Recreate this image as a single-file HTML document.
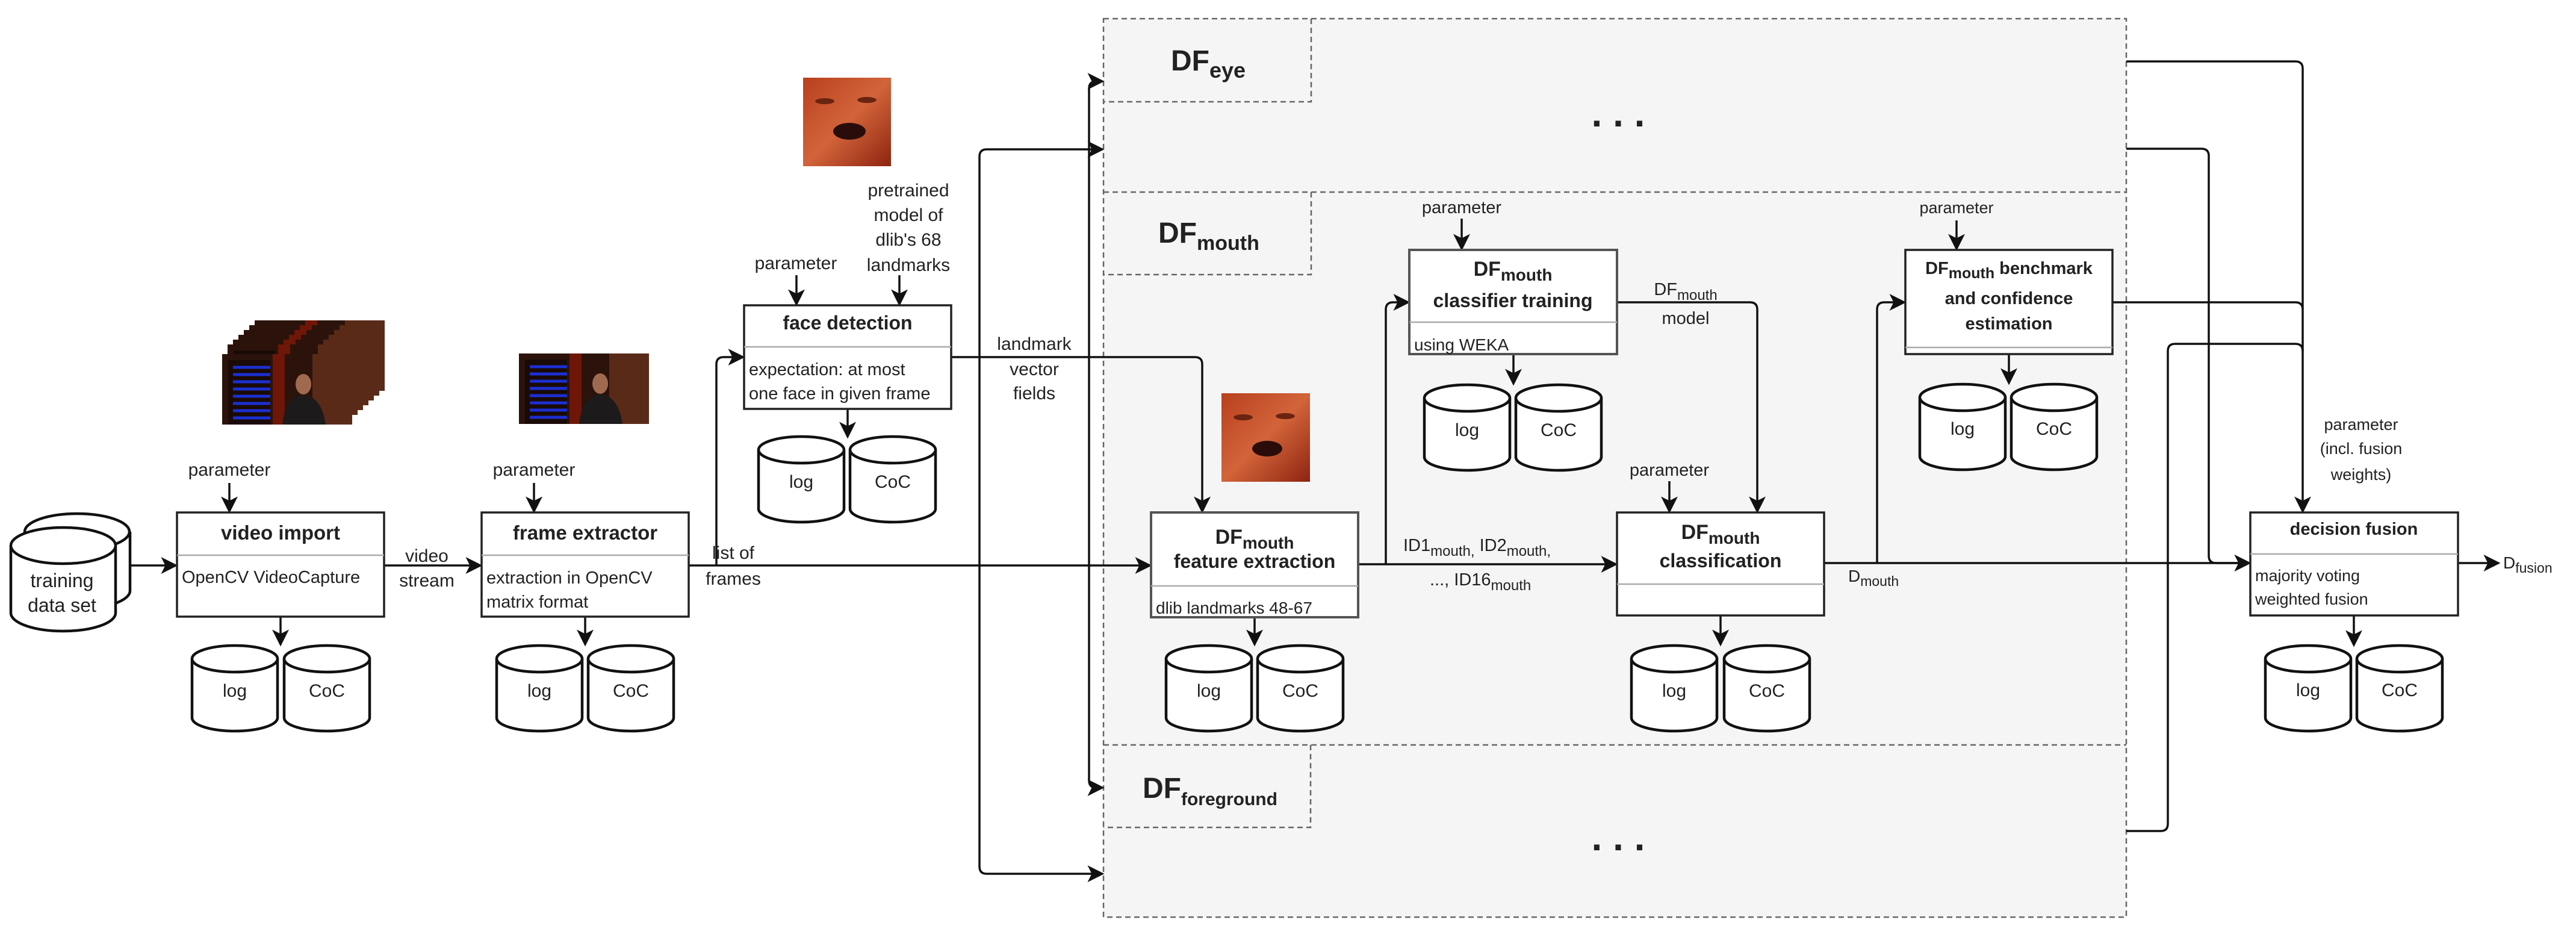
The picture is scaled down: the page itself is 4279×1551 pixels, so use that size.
<!DOCTYPE html>
<html><head><meta charset="utf-8"><style>
html,body{margin:0;padding:0;background:#fff;width:4279px;height:1551px;overflow:hidden}
svg{display:block}
text{font-family:"Liberation Sans",Arial,sans-serif;fill:#222}
.b{font-weight:bold}
.ln{fill:none;stroke:#111;stroke-width:3.5}
.box{fill:#fff;stroke:#222;stroke-width:3.5}
.box2{fill:#fff;stroke:#555;stroke-width:4}
.div{stroke:#aaa;stroke-width:2.5}
</style></head><body>
<svg width="4279" height="1551" viewBox="0 0 4279 1551" xmlns="http://www.w3.org/2000/svg">
<defs>
<marker id="a" markerWidth="8" markerHeight="8" refX="7" refY="4" orient="auto" markerUnits="strokeWidth">
<path d="M0,0 L8,4 L0,8 L2,4 z" fill="#111"/></marker>
<g id="cyl"><path d="M0,22 V120 A71,22 0 0 0 142,120 V22" fill="#fff" stroke="#111" stroke-width="4.5"/><ellipse cx="71" cy="22" rx="71" ry="22" fill="#fff" stroke="#111" stroke-width="4.5"/></g>
<linearGradient id="face" x1="0" y1="0" x2="1" y2="1"><stop offset="0" stop-color="#b8401e"/><stop offset="0.5" stop-color="#d2643a"/><stop offset="1" stop-color="#8e2410"/></linearGradient>
<g id="frame">
<rect x="0" y="0" width="216" height="117" fill="#2b130b"/>
<rect x="10" y="10" width="70" height="107" fill="#1a0a05"/>
<g stroke="#1b2fd0" stroke-width="5"><line x1="18" y1="22" x2="80" y2="22"/><line x1="18" y1="34" x2="80" y2="34"/><line x1="18" y1="46" x2="80" y2="46"/><line x1="18" y1="58" x2="80" y2="58"/><line x1="18" y1="70" x2="80" y2="70"/><line x1="18" y1="82" x2="80" y2="82"/><line x1="18" y1="94" x2="80" y2="94"/><line x1="18" y1="106" x2="80" y2="106"/></g>
<rect x="84" y="0" width="20" height="117" fill="#6e1608"/>
<rect x="150" y="0" width="66" height="117" fill="#5a2a18"/>
<ellipse cx="135" cy="50" rx="13" ry="17" fill="#a06a50"/>
<path d="M100,117 Q105,70 135,68 Q165,70 172,117 z" fill="#1c1a1a"/>
</g>
</defs>

<!-- DF group -->
<rect x="1833" y="31" width="1699" height="1492" fill="#f5f5f5" stroke="#666" stroke-width="2.5" stroke-dasharray="9,6"/>
<line x1="1833" y1="319" x2="3532" y2="319" stroke="#666" stroke-width="2.5" stroke-dasharray="9,6"/>
<line x1="1833" y1="1237" x2="3532" y2="1237" stroke="#666" stroke-width="2.5" stroke-dasharray="9,6"/>
<path d="M2178,31 V169 H1833" fill="none" stroke="#666" stroke-width="2.5" stroke-dasharray="9,6"/>
<path d="M2178,319 V456 H1833" fill="none" stroke="#666" stroke-width="2.5" stroke-dasharray="9,6"/>
<path d="M2177,1237 V1374 H1833" fill="none" stroke="#666" stroke-width="2.5" stroke-dasharray="9,6"/>
<text x="1945" y="117" font-size="48" class="b" fill="#333">DF<tspan font-size="36" dy="12">eye</tspan></text>
<text x="1924" y="403" font-size="48" class="b" fill="#333">DF<tspan font-size="34" dy="12">mouth</tspan></text>
<text x="1898" y="1325" font-size="48" class="b" fill="#333">DF<tspan font-size="30" dy="12">foreground</tspan></text>
<text x="2688" y="210" font-size="64" class="b" text-anchor="middle" fill="#111">. . .</text>
<text x="2688" y="1412" font-size="64" class="b" text-anchor="middle" fill="#111">. . .</text>

<!-- images -->
<use href="#frame" x="423" y="532"/><use href="#frame" x="414" y="540"/><use href="#frame" x="405" y="548"/><use href="#frame" x="396" y="556"/><use href="#frame" x="387" y="564"/><use href="#frame" x="378" y="572"/>
<g transform="translate(369,588) scale(1,1)"><use href="#frame"/></g>
<use href="#frame" x="862" y="587"/>
<rect x="1334" y="129" width="146" height="147" fill="url(#face)"/>
<ellipse cx="1411" cy="218" rx="27" ry="14" fill="#2a0d0a"/>
<ellipse cx="1370" cy="168" rx="16" ry="5" fill="#6a2410"/><ellipse cx="1440" cy="166" rx="16" ry="5" fill="#6a2410"/>
<rect x="2029" y="653" width="147" height="147" fill="url(#face)"/>
<ellipse cx="2105" cy="745" rx="25" ry="13" fill="#2a0d0a"/>
<ellipse cx="2065" cy="693" rx="16" ry="5" fill="#6a2410"/><ellipse cx="2135" cy="691" rx="16" ry="5" fill="#6a2410"/>

<!-- training data set -->
<path d="M41,883 V981 A87,30 0 0 0 216,981 V883" fill="#fff" stroke="#111" stroke-width="4.5"/><ellipse cx="128" cy="883" rx="87" ry="30" fill="#fff" stroke="#111" stroke-width="4.5"/>
<path d="M18,906 V1018 A87,30 0 0 0 192,1018 V906" fill="#fff" stroke="#111" stroke-width="4.5"/><ellipse cx="105" cy="906" rx="87" ry="30" fill="#fff" stroke="#111" stroke-width="4.5"/>
<text x="103" y="975" font-size="32" text-anchor="middle">training</text>
<text x="103" y="1016" font-size="32" text-anchor="middle">data set</text>

<!-- connectors -->
<g class="ln">
<path d="M216,939 H292" marker-end="url(#a)"/>
<path d="M638,939 H798" marker-end="url(#a)"/>
<path d="M381,802 V849" marker-end="url(#a)"/>
<path d="M887,802 V849" marker-end="url(#a)"/>
<path d="M466,1024 V1070" marker-end="url(#a)"/>
<path d="M972,1024 V1070" marker-end="url(#a)"/>
<path d="M1144,939 H1910" marker-end="url(#a)"/>
<path d="M1190,939 V605 Q1190,593 1202,593 H1234" marker-end="url(#a)"/>
<path d="M1323,457 V505" marker-end="url(#a)"/>
<path d="M1494,457 V505" marker-end="url(#a)"/>
<path d="M1408,679 V725" marker-end="url(#a)"/>
<path d="M1580,593 H1985 Q1997,593 1997,605 V849" marker-end="url(#a)"/>
<path d="M1627,939 V260 Q1627,248 1639,248 H1831" marker-end="url(#a)"/>
<path d="M1627,939 V1439 Q1627,1451 1639,1451 H1831" marker-end="url(#a)"/>
<path d="M1809,593 V147 Q1809,135 1821,135 H1831" marker-end="url(#a)"/>
<path d="M1809,593 V1296 Q1809,1308 1821,1308 H1831" marker-end="url(#a)"/>
<path d="M2256,937 H2684" marker-end="url(#a)"/>
<path d="M2302,937 V514 Q2302,502 2314,502 H2339" marker-end="url(#a)"/>
<path d="M2686,502 H2907 Q2919,502 2919,514 V849" marker-end="url(#a)"/>
<path d="M2428,363 V413" marker-end="url(#a)"/>
<path d="M2514,588 V637" marker-end="url(#a)"/>
<path d="M2773,799 V849" marker-end="url(#a)"/>
<path d="M2858,1022 V1070" marker-end="url(#a)"/>
<path d="M2084,1025 V1070" marker-end="url(#a)"/>
<path d="M3030,935 H3736" marker-end="url(#a)"/>
<path d="M3118,935 V514 Q3118,502 3130,502 H3163" marker-end="url(#a)"/>
<path d="M3250,366 V413" marker-end="url(#a)"/>
<path d="M3337,588 V636" marker-end="url(#a)"/>
<path d="M3532,102 H3813 Q3825,102 3825,114 V849" marker-end="url(#a)"/>
<path d="M3532,247 H3657 Q3669,247 3669,259 V923 Q3669,935 3681,935 H3736" marker-end="url(#a)"/>
<path d="M3509,502 H3813 Q3825,502 3825,514"/>
<path d="M3532,1380 H3589 Q3601,1380 3601,1368 V583 Q3601,571 3613,571 H3813 Q3825,571 3825,583"/>
<path d="M3910,1022 V1071" marker-end="url(#a)"/>
<path d="M4083,935 H4150" marker-end="url(#a)"/>
</g>

<!-- boxes -->
<rect x="294" y="851" width="344" height="173" class="box"/><line x1="294" y1="922" x2="638" y2="922" class="div"/>
<text x="466" y="896" font-size="33" class="b" text-anchor="middle">video import</text>
<text x="302" y="968" font-size="29">OpenCV VideoCapture</text>

<rect x="800" y="851" width="344" height="173" class="box"/><line x1="800" y1="922" x2="1144" y2="922" class="div"/>
<text x="972" y="896" font-size="33" class="b" text-anchor="middle">frame extractor</text>
<text x="808" y="969" font-size="29">extraction in OpenCV</text>
<text x="808" y="1009" font-size="29">matrix format</text>

<rect x="1236" y="507" width="344" height="172" class="box"/><line x1="1236" y1="576" x2="1580" y2="576" class="div"/>
<text x="1408" y="547" font-size="32" class="b" text-anchor="middle">face detection</text>
<text x="1244" y="623" font-size="29">expectation: at most</text>
<text x="1244" y="663" font-size="29">one face in given frame</text>

<rect x="1912" y="851" width="344" height="174" class="box2"/><line x1="1912" y1="973" x2="2256" y2="973" class="div"/>
<text x="2084" y="903" font-size="34" class="b" text-anchor="middle">DF<tspan font-size="28" dy="8">mouth</tspan></text>
<text x="2084" y="943" font-size="32" class="b" text-anchor="middle">feature extraction</text>
<text x="1920" y="1019" font-size="28">dlib landmarks 48-67</text>

<rect x="2341" y="415" width="345" height="173" class="box2"/><line x1="2341" y1="535" x2="2686" y2="535" class="div"/>
<text x="2513" y="458" font-size="34" class="b" text-anchor="middle">DF<tspan font-size="28" dy="8">mouth</tspan></text>
<text x="2513" y="510" font-size="32" class="b" text-anchor="middle">classifier training</text>
<text x="2349" y="582" font-size="28">using WEKA</text>

<rect x="2686" y="851" width="344" height="171" class="box"/><line x1="2686" y1="970" x2="3030" y2="970" class="div"/>
<text x="2858" y="895" font-size="34" class="b" text-anchor="middle">DF<tspan font-size="28" dy="8">mouth</tspan></text>
<text x="2858" y="942" font-size="32" class="b" text-anchor="middle">classification</text>

<rect x="3165" y="415" width="344" height="173" class="box"/><line x1="3165" y1="577" x2="3509" y2="577" class="div"/>
<text x="3337" y="455" font-size="29" class="b" text-anchor="middle">DF<tspan font-size="25" dy="7">mouth</tspan><tspan dy="-7"> benchmark</tspan></text>
<text x="3337" y="505" font-size="29" class="b" text-anchor="middle">and confidence</text>
<text x="3337" y="547" font-size="29" class="b" text-anchor="middle">estimation</text>

<rect x="3738" y="851" width="345" height="171" class="box"/><line x1="3738" y1="920" x2="4083" y2="920" class="div"/>
<text x="3910" y="888" font-size="29" class="b" text-anchor="middle">decision fusion</text>
<text x="3746" y="965" font-size="27">majority voting</text>
<text x="3746" y="1004" font-size="27">weighted fusion</text>

<!-- labels -->
<text x="381" y="790" font-size="30" text-anchor="middle">parameter</text>
<text x="887" y="790" font-size="30" text-anchor="middle">parameter</text>
<text x="1322" y="447" font-size="30" text-anchor="middle">parameter</text>
<text x="1509" y="326" font-size="30" text-anchor="middle">pretrained</text>
<text x="1509" y="367" font-size="30" text-anchor="middle">model of</text>
<text x="1509" y="408" font-size="30" text-anchor="middle">dlib's 68</text>
<text x="1509" y="450" font-size="30" text-anchor="middle">landmarks</text>
<text x="2428" y="354" font-size="29" text-anchor="middle">parameter</text>
<text x="2773" y="790" font-size="29" text-anchor="middle">parameter</text>
<text x="3250" y="354" font-size="27" text-anchor="middle" fill="#333">parameter</text>
<text x="709" y="933" font-size="30" text-anchor="middle">video</text>
<text x="709" y="974" font-size="30" text-anchor="middle">stream</text>
<text x="1218" y="928" font-size="30" text-anchor="middle">list of</text>
<text x="1218" y="971" font-size="30" text-anchor="middle">frames</text>
<text x="1718" y="581" font-size="30" text-anchor="middle">landmark</text>
<text x="1718" y="623" font-size="30" text-anchor="middle">vector</text>
<text x="1718" y="663" font-size="30" text-anchor="middle">fields</text>
<text x="2800" y="490" font-size="29" text-anchor="middle">DF<tspan font-size="24" dy="8">mouth</tspan></text>
<text x="2800" y="538" font-size="29" text-anchor="middle">model</text>
<text x="2331" y="915" font-size="29">ID1<tspan font-size="24" dy="8">mouth,</tspan><tspan dy="-8"> ID2</tspan><tspan font-size="24" dy="8">mouth,</tspan></text>
<text x="2375" y="972" font-size="29">..., ID16<tspan font-size="24" dy="8">mouth</tspan></text>
<text x="3070" y="966" font-size="28">D<tspan font-size="23" dy="7">mouth</tspan></text>
<text x="3922" y="714" font-size="27" text-anchor="middle" fill="#333">parameter</text>
<text x="3922" y="754" font-size="27" text-anchor="middle" fill="#333">(incl. fusion</text>
<text x="3922" y="797" font-size="27" text-anchor="middle" fill="#333">weights)</text>
<text x="4158" y="944" font-size="28">D<tspan font-size="23" dy="7">fusion</tspan></text>

<!-- cylinders -->
<use href="#cyl" x="319" y="1072"/><use href="#cyl" x="472" y="1072"/>
<use href="#cyl" x="825" y="1072"/><use href="#cyl" x="977" y="1072"/>
<use href="#cyl" x="1260" y="725"/><use href="#cyl" x="1412" y="725"/>
<use href="#cyl" x="2366" y="639"/><use href="#cyl" x="2518" y="639"/>
<use href="#cyl" x="1937" y="1072"/><use href="#cyl" x="2089" y="1072"/>
<use href="#cyl" x="2710" y="1072"/><use href="#cyl" x="2864" y="1072"/>
<use href="#cyl" x="3189" y="638"/><use href="#cyl" x="3341" y="638"/>
<use href="#cyl" x="3763" y="1072"/><use href="#cyl" x="3915" y="1072"/>
<g font-size="30" text-anchor="middle">
<text x="390" y="1157">log</text><text x="543" y="1157">CoC</text>
<text x="896" y="1157">log</text><text x="1048" y="1157">CoC</text>
<text x="1331" y="810">log</text><text x="1483" y="810">CoC</text>
<text x="2437" y="724">log</text><text x="2589" y="724">CoC</text>
<text x="2008" y="1157">log</text><text x="2160" y="1157">CoC</text>
<text x="2781" y="1157">log</text><text x="2935" y="1157">CoC</text>
<text x="3260" y="722">log</text><text x="3412" y="722">CoC</text>
<text x="3834" y="1156">log</text><text x="3986" y="1156">CoC</text>
</g>
</svg>
</body></html>
